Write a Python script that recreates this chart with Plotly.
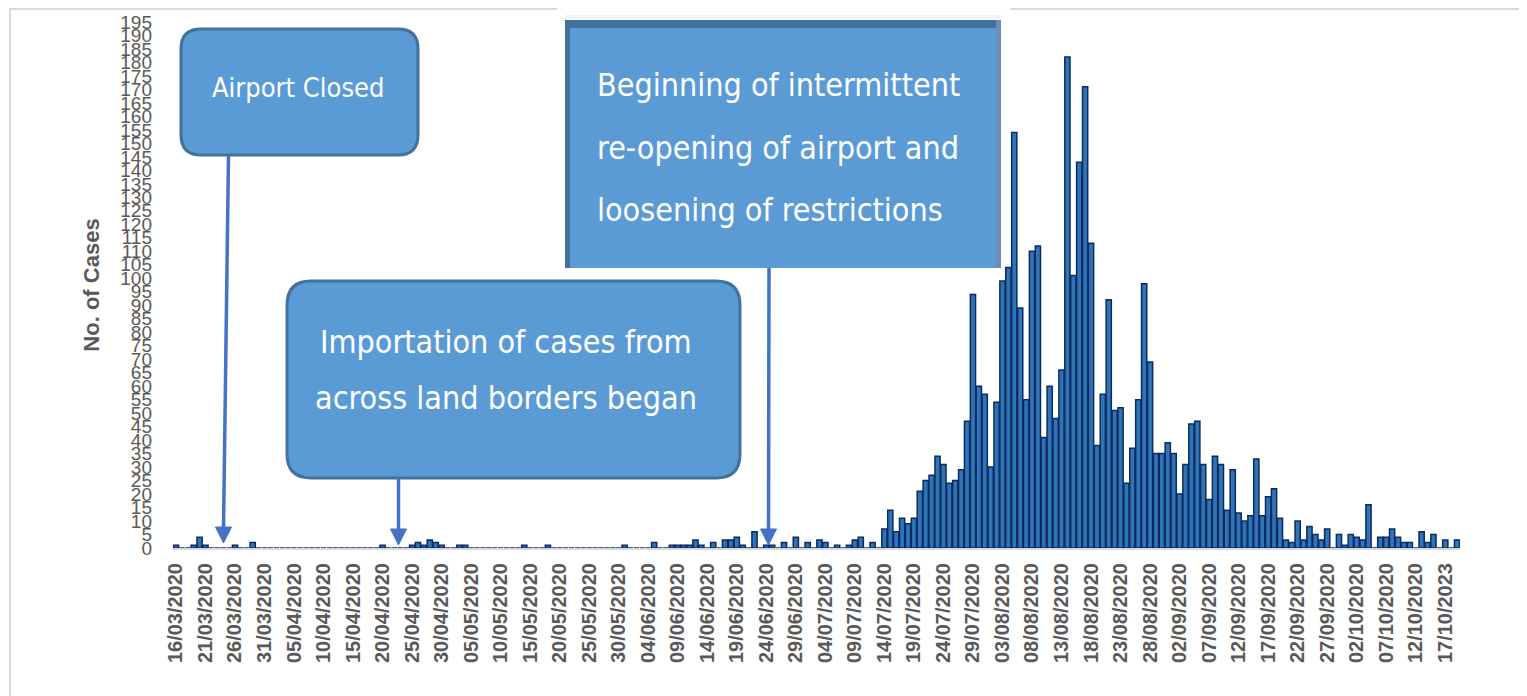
import plotly.graph_objects as go
import pandas as pd

# ---------------- data ----------------
start_date = "2020-03-16"
n_days = 218
nonzero_days = [0, 3, 4, 5, 10, 13, 35, 40, 41, 42, 43, 44, 45, 48, 49, 59, 63, 76, 81,
                84, 85, 86, 87, 88, 89, 91, 93, 94, 95, 96, 98, 100, 101, 103, 105, 107,
                109, 110, 112, 114, 115, 116, 118]
nonzero_vals = [1, 1, 4, 1, 1, 2, 1, 1, 2, 1, 3, 2, 1, 1, 1, 1, 1, 1, 2,
                1, 1, 1, 1, 3, 1, 2, 3, 3, 4, 1, 6, 1, 1, 2, 4, 2,
                3, 2, 1, 1, 3, 4, 2]
# daily counts from 18/07/2020 (day 120) to 19/10/2020 (day 217)
peak_vals = [7, 14, 6, 11, 9, 11, 21, 25, 27, 34, 31, 24, 25, 29, 47, 94, 60, 57, 30, 54,
             99, 104, 154, 89, 55, 110, 112, 41, 60, 48, 66, 182, 101, 143, 171, 113, 38, 57,
             92, 51, 52, 24, 37, 55, 98, 69, 35, 35, 39, 35, 20, 31, 46, 47, 31, 18, 34, 31,
             14, 29, 13, 10, 12, 33, 12, 19, 22, 11, 3, 2, 10, 3, 8, 5, 3, 7, 0, 5, 1, 5, 4,
             3, 16, 0, 4, 4, 7, 4, 2, 2, 0, 6, 2, 5, 0, 3, 0, 3]

dates = pd.date_range(start_date, periods=n_days, freq="D")
categories = [d.strftime("%d/%m/%Y") for d in dates]
cases = [0] * n_days
for d, v in zip(nonzero_days, nonzero_vals):
    cases[d] = v
for i, v in enumerate(peak_vals):
    cases[120 + i] = v

tick_labels = ["16/03/2020", "21/03/2020", "26/03/2020", "31/03/2020", "05/04/2020",
               "10/04/2020", "15/04/2020", "20/04/2020", "25/04/2020", "30/04/2020",
               "05/05/2020", "10/05/2020", "15/05/2020", "20/05/2020", "25/05/2020",
               "30/05/2020", "04/06/2020", "09/06/2020", "14/06/2020", "19/06/2020",
               "24/06/2020", "29/06/2020", "04/07/2020", "09/07/2020", "14/07/2020",
               "19/07/2020", "24/07/2020", "29/07/2020", "03/08/2020", "08/08/2020",
               "13/08/2020", "18/08/2020", "23/08/2020", "28/08/2020", "02/09/2020",
               "07/09/2020", "12/09/2020", "17/09/2020", "22/09/2020", "27/09/2020",
               "02/10/2020", "07/10/2020", "12/10/2020", "17/10/2023"]
tick_vals = categories[0:len(tick_labels) * 5:5]

box1_text = "Airport Closed"
box2_lines = ["Importation of cases from", "across land borders began"]
box3_lines = ["Beginning of intermittent", "re-opening of airport and", "loosening of restrictions"]

# ---------------- layout geometry (pixels, reference image coords) ----------------
W, H = 1527, 696
OFF = 8  # page body margin offset
L, R, T, B = 173, 1460, 22, 548


def px(x):
    return (x - L) / (R - L)


def py(y):
    return (B - y) / (B - T)


def rounded_rect(x0, y0, x1, y1, r):
    p = lambda x, y: f"{px(x):.5f},{py(y):.5f}"
    path = f"M {p(x0 + r, y0)} L {p(x1 - r, y0)} Q {p(x1, y0)} {p(x1, y0 + r)} "
    path += f"L {p(x1, y1 - r)} Q {p(x1, y1)} {p(x1 - r, y1)} "
    path += f"L {p(x0 + r, y1)} Q {p(x0, y1)} {p(x0, y1 - r)} "
    path += f"L {p(x0, y0 + r)} Q {p(x0, y0)} {p(x0 + r, y0)} Z"
    return path


BOX_FILL = "#5B9BD5"
BOX_LINE = "#41719C"
ARROW = "#4472C4"

shapes = []
# outer chart border
shapes.append(dict(type="rect", xref="paper", yref="paper", x0=px(10), x1=px(1523), y0=py(702), y1=py(9),
                   line=dict(color="#D9D9D9", width=2), fillcolor="rgba(0,0,0,0)", layer="below"))
# white band above box 3
shapes.append(dict(type="rect", xref="paper", yref="paper", x0=px(557), x1=px(1010), y0=py(19), y1=py(-2),
                   line=dict(width=0), fillcolor="white"))
shapes.append(dict(type="rect", xref="paper", yref="paper", x0=px(565), x1=px(1002), y0=py(19), y1=py(15),
                   line=dict(width=0), fillcolor="#EEF3F9"))

# box 1 and box 2 (rounded)
shapes.append(dict(type="path", xref="paper", yref="paper", path=rounded_rect(181, 29, 418, 155, 20),
                   fillcolor=BOX_FILL, line=dict(color=BOX_LINE, width=3)))
shapes.append(dict(type="path", xref="paper", yref="paper", path=rounded_rect(287, 281, 740, 478, 24),
                   fillcolor=BOX_FILL, line=dict(color=BOX_LINE, width=3)))
# box 3 (square)
shapes.append(dict(type="rect", xref="paper", yref="paper", x0=px(565), x1=px(1001), y0=py(268), y1=py(20),
                   fillcolor=BOX_FILL, line=dict(width=0)))
shapes.append(dict(type="line", xref="paper", yref="paper", x0=px(565), x1=px(1001), y0=py(24), y1=py(24),
                   line=dict(color="#41719C", width=8)))
shapes.append(dict(type="line", xref="paper", yref="paper", x0=px(567.5), x1=px(567.5), y0=py(20), y1=py(268),
                   line=dict(color="#41719C", width=5)))
shapes.append(dict(type="line", xref="paper", yref="paper", x0=px(998.5), x1=px(998.5), y0=py(20), y1=py(268),
                   line=dict(color="#6A8FB3", width=5)))


def arrow(xs, ys, xt, yt, hw=8, hh=16):
    shapes.append(dict(type="line", xref="paper", yref="paper", x0=px(xs), y0=py(ys), x1=px(xt), y1=py(yt - hh + 2),
                       line=dict(color=ARROW, width=3.5)))
    path = f"M {px(xt - hw):.5f},{py(yt - hh):.5f} L {px(xt + hw):.5f},{py(yt - hh):.5f} L {px(xt):.5f},{py(yt):.5f} Z"
    shapes.append(dict(type="path", xref="paper", yref="paper", path=path, fillcolor=ARROW,
                       line=dict(color=ARROW, width=1)))


arrow(228.5, 155, 223.5, 543)
arrow(398.5, 478, 398.5, 545)
arrow(769, 268, 768.5, 545)

BOX_FONT = "Liberation Sans Narrow, DejaVu Sans Condensed, Arial Narrow, sans-serif"
annotations = []
annotations.append(dict(xref="paper", yref="paper", x=px(298), y=py(88), text=box1_text, showarrow=False,
                        font=dict(family=BOX_FONT, size=27, color="white"), xanchor="center", yanchor="middle"))
for i, line in enumerate(box2_lines):
    annotations.append(dict(xref="paper", yref="paper", x=px(506), y=py(342 + 56 * i), text=line, showarrow=False,
                            font=dict(family=BOX_FONT, size=32, color="white"), xanchor="center", yanchor="middle"))
for i, line in enumerate(box3_lines):
    annotations.append(dict(xref="paper", yref="paper", x=px(595), y=py(85 + 62.5 * i), text=line, showarrow=False,
                            font=dict(family=BOX_FONT, size=32, color="white"), xanchor="left", yanchor="middle"))

fig = go.Figure()
fig.add_trace(go.Bar(x=categories, y=cases,
                     marker=dict(color="#2E75B6", line=dict(color="#0B2A63", width=1.5))))

fig.update_layout(
    width=W, height=H,
    margin=dict(l=L - OFF, r=W - R + OFF, t=T - OFF, b=H - B + OFF, autoexpand=False),
    paper_bgcolor="white", plot_bgcolor="white",
    bargap=0.12, showlegend=False,
    shapes=shapes, annotations=annotations,
    font=dict(family="Liberation Sans, Arial, sans-serif", color="#595959"),
)
fig.update_xaxes(type="category", tickmode="array", tickvals=tick_vals, ticktext=tick_labels,
                 tickangle=-90, tickfont=dict(size=20, color="#595959", family="Liberation Sans, Arial",
                                              weight="bold"),
                 showline=True, linecolor="#D9D9D9", linewidth=2, showgrid=False, ticks="",
                 ticklabelstandoff=5, range=[-0.5, n_days - 0.5])
fig.update_yaxes(range=[0, 195], dtick=5, tick0=0, showgrid=False, zeroline=False, showline=False,
                 tickfont=dict(size=19, color="#595959"), ticklabelstandoff=20,
                 title=dict(text="No. of Cases", font=dict(size=22, color="#595959", weight="bold"),
                            standoff=14))

fig.write_html("out.html")
